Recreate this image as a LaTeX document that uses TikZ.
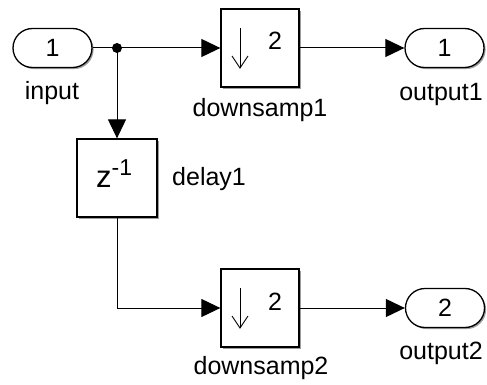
\documentclass[tikz,border=0pt]{standalone}
\usepackage{fontspec}
\setmainfont{Liberation Sans}
\usetikzlibrary{arrows.meta,shapes.misc,shadows}
\begin{document}
\begin{tikzpicture}[x=1pt,y=-1pt,
  shad/.style={drop shadow={shadow xshift=1.6pt,shadow yshift=-1.6pt,opacity=0.55,fill=black!70}},
  blk/.style={draw,line width=1.3pt,fill=white,minimum width=78pt,minimum height=78pt,inner sep=0pt,shad},
  port/.style={draw,rounded rectangle,line width=1.3pt,fill=white,minimum width=79pt,minimum height=39pt,inner sep=0pt,font=\fontsize{25}{25}\selectfont,shad},
  lbl/.style={font=\fontsize{25}{25}\selectfont,inner sep=0pt,anchor=base},
  wire/.style={line width=1pt,-{Triangle[length=19pt,width=18pt]}},
  dsarrow/.style={line width=0.9pt}
]
\useasboundingbox (0,0) rectangle (487,385);

% ports
\node[port] (in) at (52.5,48) {1};
\node[lbl] (inl) at (52,100) {input};
\node[port] (out1) at (444.5,48) {1};
\node[lbl] (out1l) at (441,101) {output1};
\node[port] (out2) at (445,308) {2};
\node[lbl] (out2l) at (441,359) {output2};

% downsamp blocks
\node[blk] (ds1) at (260,48) {};
\node[lbl] (ds1l) at (260,117) {downsamp1};
\node[lbl,anchor=base] (ds1n) at (275,50) {2};
\draw[dsarrow] (240,28) -- (240,68);
\draw[dsarrow] (232,56) -- (240,68) -- (248,56);

\node[blk] (ds2) at (260,308) {};
\node[lbl] (ds2l) at (261,374) {downsamp2};
\node[lbl,anchor=base] (ds2n) at (275,310) {2};
\draw[dsarrow] (240,288) -- (240,328);
\draw[dsarrow] (232,316) -- (240,328) -- (248,316);

% delay block
\node[blk,minimum width=80pt] (dl) at (117,178) {};
\node[inner sep=0pt,anchor=base west] (zl) at (96,187) {{\fontsize{31}{31}\selectfont z}\raisebox{12pt}{\fontsize{23}{23}\selectfont -1}};
\node[lbl,anchor=base west] (dll) at (172,185) {delay1};

% wires
\coordinate (j) at (117,48);
\draw[line width=1pt] (in.east) -- (j);
\draw[wire] (j) -- (ds1.west);
\draw[wire] (j) -- (dl.north);
\fill (j) circle (5);
\draw[wire] (ds1.east) -- (out1.west);
\draw[wire] (dl.south) |- (ds2.west);
\draw[wire] (ds2.east) -- (out2.west);
\end{tikzpicture}
\end{document}
